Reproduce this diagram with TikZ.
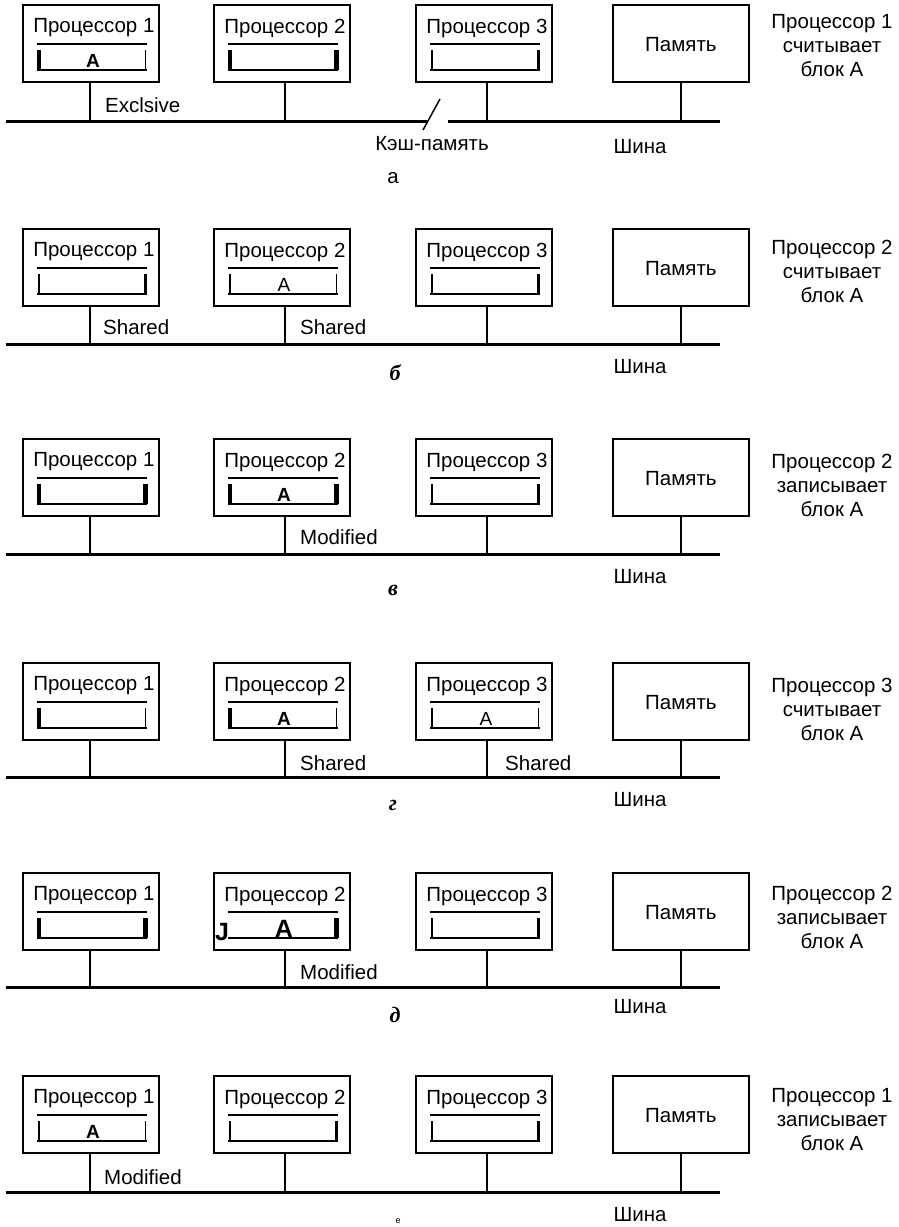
\documentclass[tikz,border=0pt]{standalone}
\usepackage{fontspec}
\setmainfont{Liberation Sans}
\newfontfamily\serifit{Liberation Serif}
\usetikzlibrary{calc}
\tikzset{
  pbox/.style={draw, line width=1.8pt, minimum width=136pt, minimum height=77pt, inner sep=0pt, anchor=north west},
  txt/.style={font=\fontsize{20.5}{24}\selectfont, inner sep=0pt},
  stxt/.style={txt, anchor=west},
  rtxt/.style={txt, align=center},
  plabel/.style={font=\serifit\bfseries\itshape\fontsize{22}{24}\selectfont, inner sep=0pt},
  bus/.style={line width=3pt},
  drop/.style={line width=1.5pt},
  cline/.style={line width=2pt},
  thin/.style={line width=1.2pt},
  med/.style={line width=2.8pt},
  thick/.style={line width=4.5pt},
  cA/.style={font=\bfseries\fontsize{19}{20}\selectfont, inner sep=0pt},
  cAr/.style={font=\fontsize{19}{20}\selectfont, inner sep=0pt},
  cAbig/.style={font=\bfseries\fontsize{25}{28}\selectfont, inner sep=0pt},
}
\newcommand\procnode[4]{%
  \node[pbox] (#1) at (#2,#3) {};
  \node[txt] (#1t) at ($(#1.north)+(3,24)$) {Процессор #4};
}
% #1 node, #2 left bar style, #3 right bar style, #4 content style, #5 content
\newcommand\cachebox[5]{%
  \draw[cline] ($(#1.north west)+(15,40)$) -- ($(#1.north east)+(-13,40)$);
  \draw[#2] ($(#1.north west)+(17,46)$) -- ($(#1.north west)+(17,66)$);
  \draw[#3] ($(#1.north east)+(-14.5,46)$) -- ($(#1.north east)+(-14.5,66)$);
  \draw[cline] ($(#1.north west)+(15,66)$) -- ($(#1.north east)+(-13,66)$);
  \node[#4] (#1c) at ($(#1.north)+(2,57)$) {#5};
}
% #1 prefix, #2 top, #3 bus y, #4 Shina y
\newcommand\panel[4]{%
  \procnode{#1p1}{22}{#2}{1}
  \procnode{#1p2}{213}{#2}{2}
  \procnode{#1p3}{415}{#2}{3}
  \node[pbox] (#1m) at (612,#2) {};
  \node[txt] (#1mt) at ($(#1m.north)+(0,41)$) {Память};
  \coordinate (#1b0) at (6,#3);
  \coordinate (#1b1) at (90,#3);
  \coordinate (#1b2) at (285,#3);
  \coordinate (#1b3) at (487,#3);
  \coordinate (#1b4) at (681,#3);
  \coordinate (#1b5) at (720,#3);
  \draw[drop] (#1p1.south -| #1b1) -- (#1b1);
  \draw[drop] (#1p2.south -| #1b2) -- (#1b2);
  \draw[drop] (#1p3.south -| #1b3) -- (#1b3);
  \draw[line width=2pt] (#1m.south -| #1b4) -- (#1b4);
  \node[txt] (#1sh) at (640,#4) {Шина};
}
\begin{document}
\begin{tikzpicture}[x=1pt,y=-1pt]
\useasboundingbox (0,0) rectangle (899,1227);

% ---------- panel a ----------
\panel{a}{4}{121}{147}
\coordinate (ag1) at (427,121);
\coordinate (ag2) at (448,121);
\draw[bus] (ab0) -- (ag1);
\draw[bus] (ag2) -- (ab5);
\coordinate (asl1) at (423,130);
\coordinate (asl2) at (440,99);
\draw[line width=1.5pt] (asl1) -- (asl2);
\node[txt] (akesh) at (432,144) {Кэш-память};
\cachebox{ap1}{thick}{thin}{cA}{A}
\cachebox{ap2}{thick}{thick}{cA}{}
\cachebox{ap3}{med}{med}{cA}{}
\node[stxt] (aex) at (105,105) {Exclsive};
\node[rtxt] (ar) at (832,46) {Процессор 1\\считывает\\блок А};
\node[txt] (alab) at (393,178) {а};

% ---------- panel b ----------
\panel{b}{228}{344}{367}
\draw[bus] (bb0) -- (bb5);
\cachebox{bp1}{med}{med}{cA}{}
\cachebox{bp2}{thin}{thin}{cAr}{A}
\cachebox{bp3}{med}{med}{cA}{}
\node[stxt] (bs1) at (103,327) {Shared};
\node[stxt] (bs2) at (300,327) {Shared};
\node[rtxt] (br) at (832,271) {Процессор 2\\считывает\\блок А};
\node[plabel] (blab) at (395,373) {б};

% ---------- panel v ----------
\panel{v}{438}{554}{577}
\draw[bus] (vb0) -- (vb5);
\cachebox{vp1}{thick}{thick}{cA}{}
\cachebox{vp2}{thick}{thick}{cA}{A}
\cachebox{vp3}{med}{med}{cA}{}
\node[stxt] (vm) at (300,537) {Modified};
\node[rtxt] (vr) at (832,485) {Процессор 2\\записывает\\блок А};
\node[plabel] (vlab) at (393,590) {в};

% ---------- panel g ----------
\panel{g}{662}{777}{800}
\draw[bus] (gb0) -- (gb5);
\cachebox{gp1}{thick}{thin}{cA}{}
\cachebox{gp2}{thick}{thin}{cA}{A}
\cachebox{gp3}{thin}{thin}{cAr}{A}
\node[stxt] (gs1) at (300,763) {Shared};
\node[stxt] (gs2) at (505,763) {Shared};
\node[rtxt] (gr) at (832,709) {Процессор 3\\считывает\\блок А};
\node[plabel] (glab) at (393,805) {г};

% ---------- panel d ----------
\panel{d}{872}{987}{1007}
\draw[bus] (db0) -- (db5);
\cachebox{dp1}{thick}{thick}{cA}{}
\cachebox{dp2}{draw=none}{thick}{cAbig}{A}
\node[cAbig] (dpj) at ($(dp2.north west)+(9,60)$) {J};
\cachebox{dp3}{med}{med}{cA}{}
\node[stxt] (dm) at (300,972) {Modified};
\node[rtxt] (dr) at (832,917) {Процессор 2\\записывает\\блок А};
\node[plabel] (dlab) at (395,1015) {д};

% ---------- panel e ----------
\panel{e}{1075}{1192}{1215}
\draw[bus] (eb0) -- (eb5);
\cachebox{ep1}{thin}{thin}{cA}{A}
\cachebox{ep2}{med}{med}{cA}{}
\cachebox{ep3}{med}{med}{cA}{}
\node[stxt] (em) at (104,1177) {Modified};
\node[rtxt] (er) at (832,1120) {Процессор 1\\записывает\\блок А};
\node[font=\fontsize{9}{10}\selectfont, inner sep=0pt] (elab) at (398,1221) {е};
\end{tikzpicture}
\end{document}
